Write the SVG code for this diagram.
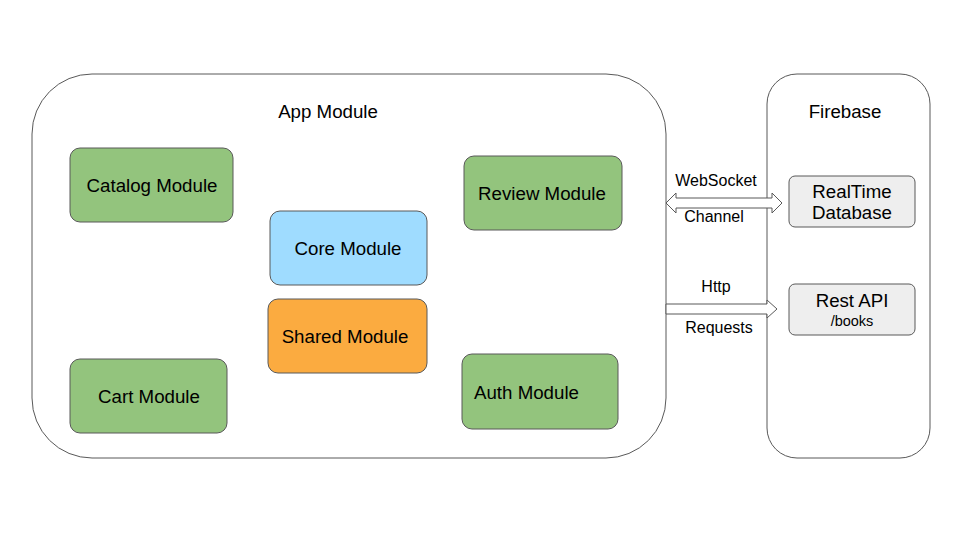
<svg xmlns="http://www.w3.org/2000/svg" width="960" height="540" viewBox="0 0 960 540">
<style>
.frame{fill:#ffffff;stroke:#595959;stroke-width:1}
.mod{stroke:#595959;stroke-width:1}
.green{fill:#93c47d}
.blue{fill:#9fdcff}
.orange{fill:#fbab40}
.grey{fill:#eeeeee}
text{font-family:"Liberation Sans",Arial,sans-serif;fill:#000000}
.t18{font-size:18.7px}
.t15{font-size:16px}
.t13{font-size:14.5px}
.arrow{fill:#ffffff;stroke:#595959;stroke-width:1}
</style>
<rect width="960" height="540" fill="#ffffff"/>
<g id="app-module">
<rect class="frame" x="32" y="74" width="634" height="384" rx="60" ry="60"/>
<text class="t18" x="328" y="118" text-anchor="middle">App Module</text>
</g>
<g id="firebase">
<rect class="frame" x="767" y="74" width="163" height="384" rx="30" ry="30"/>
<text class="t18" x="845" y="118" text-anchor="middle">Firebase</text>
</g>
<g id="catalog-module">
<rect class="mod green" x="70" y="148" width="163" height="74" rx="10"/>
<text class="t18" x="152" y="192" text-anchor="middle">Catalog Module</text>
</g>
<g id="review-module">
<rect class="mod green" x="464" y="156" width="158" height="74" rx="10"/>
<text class="t18" x="542" y="200" text-anchor="middle">Review Module</text>
</g>
<g id="core-module">
<rect class="mod blue" x="270" y="211" width="157" height="74" rx="10"/>
<text class="t18" x="348" y="255" text-anchor="middle">Core Module</text>
</g>
<g id="shared-module">
<rect class="mod orange" x="268" y="299" width="159" height="74" rx="10"/>
<text class="t18" x="345" y="343" text-anchor="middle">Shared Module</text>
</g>
<g id="cart-module">
<rect class="mod green" x="70" y="359" width="157" height="74" rx="10"/>
<text class="t18" x="149" y="403" text-anchor="middle">Cart Module</text>
</g>
<g id="auth-module">
<rect class="mod green" x="462" y="354" width="156" height="75" rx="10"/>
<text class="t18" x="474" y="399">Auth Module</text>
</g>
<g id="realtime-database">
<rect class="mod grey" x="789" y="176" width="126" height="51" rx="6"/>
<text class="t18" x="852" y="198" text-anchor="middle">RealTime</text>
<text class="t18" x="852" y="219" text-anchor="middle">Database</text>
</g>
<g id="rest-api">
<rect class="mod grey" x="789" y="284" width="126" height="51" rx="6"/>
<text class="t18" x="852" y="307" text-anchor="middle">Rest API</text>
<text class="t13" x="852" y="326" text-anchor="middle">/books</text>
</g>
<g id="connectors">
<polygon class="arrow" points="666,203 676,193 676,198 772,198 772,193 782,203 772,213 772,208 676,208 676,213"/>
<text class="t15" x="716" y="186" text-anchor="middle">WebSocket</text>
<text class="t15" x="714" y="222" text-anchor="middle">Channel</text>
<polygon class="arrow" points="666,304 767,304 767,300 777,309 767,318 767,314 666,314"/>
<text class="t15" x="716" y="292" text-anchor="middle">Http</text>
<text class="t15" x="719" y="333" text-anchor="middle">Requests</text>
</g>
</svg>
